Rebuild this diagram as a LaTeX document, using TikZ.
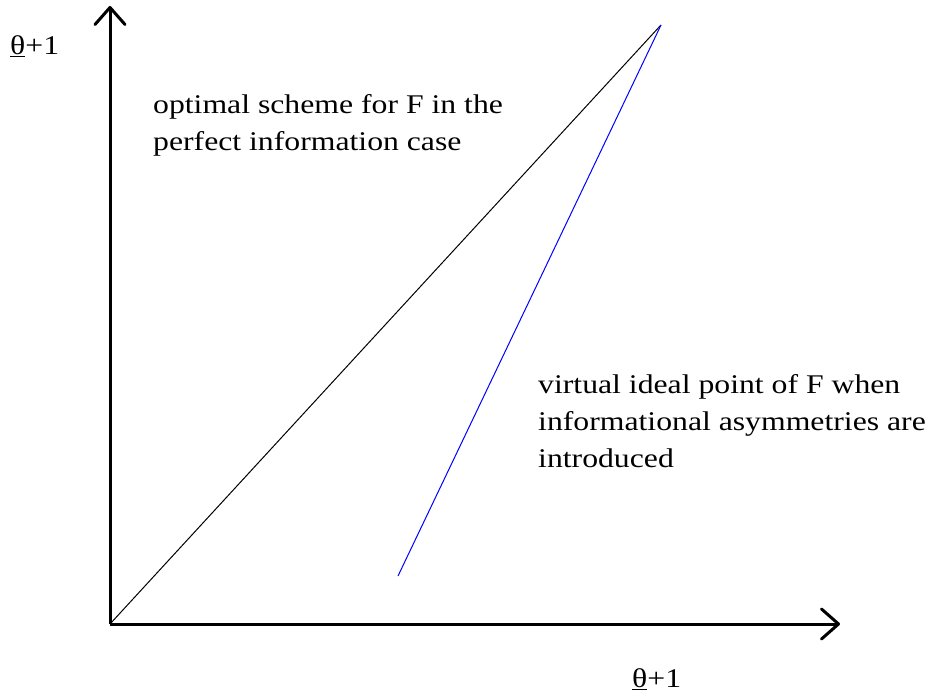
\documentclass[tikz,border=0pt]{standalone}
\usepackage{fontspec}
\setmainfont[FakeStretch=1.175]{Liberation Serif}
\usetikzlibrary{arrows.meta}
\begin{document}
\begin{tikzpicture}[x=1pt,y=-1pt,
  axis/.style={line width=3pt,-{Straight Barb[length=17pt,width=30pt,line cap=round,line join=round]}},
  lbl/.style={font=\fontsize{27}{37}\selectfont,inner sep=0pt,align=left}]
\useasboundingbox (0,0) rectangle (931,700);
\coordinate (O) at (110,624);
\coordinate (Y) at (110,6);
\coordinate (X) at (840,624);
\coordinate (P) at (661,25);
\coordinate (B) at (398,576);
\draw[axis] (O) -- (Y);
\draw[axis] (O) -- (X);
\draw[line width=1pt] (O) -- (P);
\draw[line width=1pt,blue] (P) -- (B);
\node[lbl,anchor=north west] (t1) at (153,94.5) {optimal scheme for F in the\\perfect information case};
\node[lbl,anchor=north west] (t2) at (538,374.5) {virtual ideal point of F when\\informational asymmetries are\\introduced};
\node[lbl,anchor=west] (ly) at (10,46) {\underline{θ}+1};
\node[lbl,anchor=west] (lx) at (632,679) {\underline{θ}+1};
\end{tikzpicture}
\end{document}
